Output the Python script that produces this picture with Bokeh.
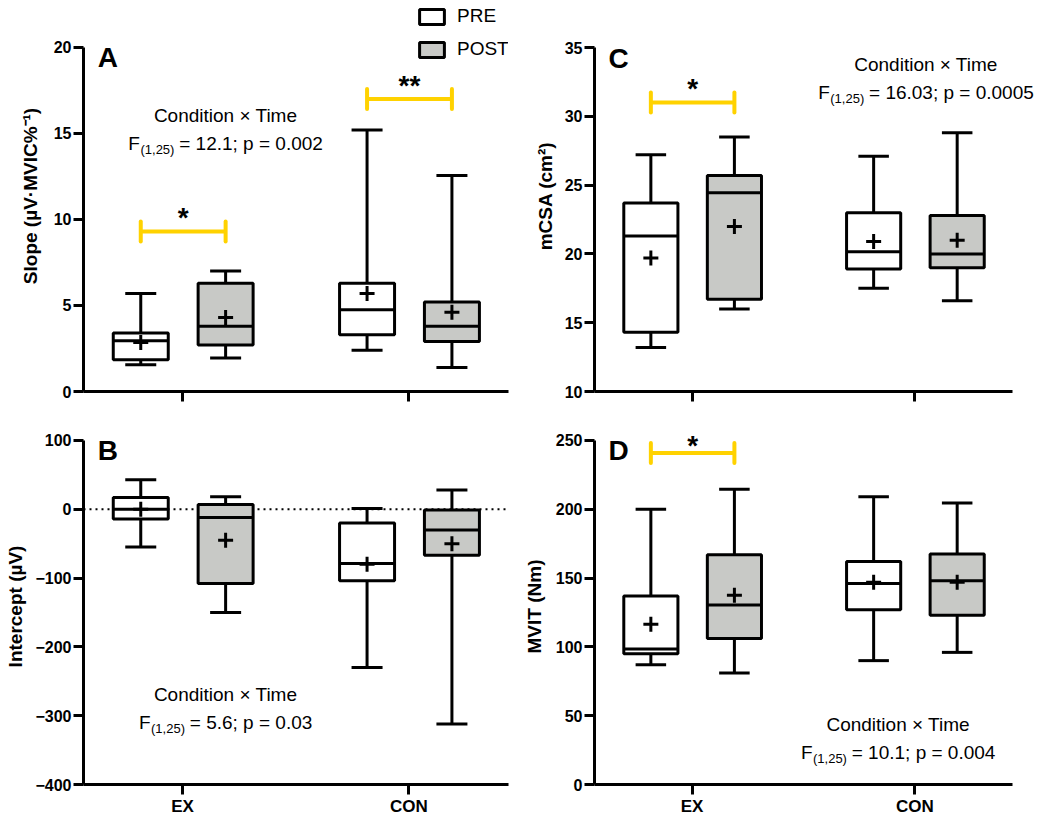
import math
from bokeh.plotting import figure
from bokeh.layouts import gridplot
from bokeh.models import Range1d, FixedTicker, Label, Span, ColumnDataSource
from bokeh.embed import file_html
from bokeh.resources import INLINE
from bokeh.core.properties import value

# ---------------- data ----------------
conditions = ["EX", "CON"]
cond_pos = [1, 2]
times = ["PRE", "POST"]
# order of groups: EX-PRE, EX-POST, CON-PRE, CON-POST

slope_min = [1.55, 1.95, 2.4, 1.4]
slope_q1 = [1.85, 2.7, 3.3, 2.9]
slope_med = [2.95, 3.8, 4.75, 3.8]
slope_q3 = [3.4, 6.3, 6.3, 5.2]
slope_max = [5.7, 7.0, 15.2, 12.55]
slope_mean = [2.85, 4.3, 5.7, 4.6]

icpt_min = [-55, -150, -230, -312]
icpt_q1 = [-14, -108, -104, -67]
icpt_med = [0, -12, -79, -30]
icpt_q3 = [17, 7, -20, -1]
icpt_max = [43, 18, 1, 28]
icpt_mean = [0, -45, -80, -50]

mcsa_min = [13.2, 16.0, 17.5, 16.6]
mcsa_q1 = [14.3, 16.7, 18.9, 19.0]
mcsa_med = [21.3, 24.45, 20.15, 20.0]
mcsa_q3 = [23.7, 25.7, 23.0, 22.8]
mcsa_max = [27.2, 28.5, 27.1, 28.8]
mcsa_mean = [19.7, 22.0, 20.9, 21.0]

mvit_min = [87, 81, 90, 96]
mvit_q1 = [95, 106, 127, 123]
mvit_med = [98.5, 130.5, 146, 148]
mvit_q3 = [137, 167, 162, 167.5]
mvit_max = [200, 214.5, 209, 204.5]
mvit_mean = [116.5, 137.5, 147, 147]

# significance brackets (condition index, y level, stars)
slope_sig_cond = [0, 1]
slope_sig_y = [9.3, 17.0]
slope_sig_txt = ["*", "**"]
mcsa_sig_cond = [0]
mcsa_sig_y = [31.0]
mcsa_sig_txt = ["*"]
mvit_sig_cond = [0]
mvit_sig_y = [240.8]
mvit_sig_txt = ["*"]

slope_ticks = [0, 5, 10, 15, 20]
icpt_ticks = [-400, -300, -200, -100, 0, 100]
mcsa_ticks = [10, 15, 20, 25, 30, 35]
mvit_ticks = [0, 50, 100, 150, 200, 250]

panel_letters = ["A", "B", "C", "D"]
y_labels = ["Slope (µV·MVIC%⁻¹)", "Intercept (µV)", "mCSA (cm²)", "MVIT (Nm)"]
stat_head = "Condition × Time"
stat_sub = "(1,25)"
stat_rest = ["= 12.1; p = 0.002", "= 5.6; p = 0.03", "= 16.03; p = 0.0005", "= 10.1; p = 0.004"]

# ---------------- style ----------------
FONT = "Liberation Sans"
GRAY = "#c8c9c6"
YELLOW = "#ffd200"
DODGE = {"PRE": -0.185, "POST": 0.19}
FILL = {"PRE": "white", "POST": GRAY}
BOX_W = 0.243
CAP_W = 0.137
X0 = 0.562
X_AXIS_END = 2.44

CW = {'F': .611, '(': .333, ')': .333, ',': .278, ' ': .278, '=': .584, '.': .278,
      ';': .278, 'p': .556}


def text_w(s, size):
    return sum(CW.get(ch, 0.556) for ch in s) * size


def make_fig(width, height, x_end, yr, yticks, mbl, mbr, mbt, mbb, show_x, ylabel, ylab_standoff):
    p = figure(width=width, height=height, x_range=Range1d(X0, x_end), y_range=Range1d(*yr),
               output_backend="svg", toolbar_location=None,
               min_border_left=mbl, min_border_right=mbr, min_border_top=mbt, min_border_bottom=mbb)
    p.outline_line_color = None
    p.xgrid.grid_line_color = None
    p.ygrid.grid_line_color = None
    p.background_fill_color = "white"
    p.xaxis.ticker = FixedTicker(ticks=cond_pos)
    p.xaxis.bounds = (X0, X_AXIS_END)
    if show_x:
        p.xaxis.major_label_overrides = {cond_pos[i]: conditions[i] for i in range(2)}
    else:
        p.xaxis.major_label_overrides = {cond_pos[i]: "" for i in range(2)}
    p.yaxis.ticker = FixedTicker(ticks=yticks)
    p.yaxis.bounds = (yticks[0], yticks[-1])
    for ax in p.axis:
        ax.axis_line_width = 3
        ax.axis_line_color = "black"
        ax.major_tick_line_width = 3
        ax.major_tick_line_color = "black"
        ax.major_tick_out = 10
        ax.major_tick_in = 0
        ax.minor_tick_line_color = None
        ax.major_label_text_font = FONT
        ax.major_label_text_font_style = "bold"
        ax.major_label_text_color = "black"
        ax.major_label_standoff = 2
    p.yaxis.major_label_text_font_size = "16px"
    p.xaxis.major_label_text_font_size = "17px"
    p.yaxis.axis_label = ylabel
    p.yaxis.axis_label_text_font = FONT
    p.yaxis.axis_label_text_font_style = "bold"
    p.yaxis.axis_label_text_font_size = "19px"
    p.yaxis.axis_label_text_color = "black"
    p.yaxis.axis_label_standoff = ylab_standoff
    return p


def draw_boxes(p, mins, q1, med, q3, maxs, means, legend=False):
    for t_i, t in enumerate(times):
        idx = [c_i * 2 + t_i for c_i in range(len(cond_pos))]
        xs = [cond_pos[c_i] + DODGE[t] for c_i in range(len(cond_pos))]
        src = ColumnDataSource(dict(
            x=xs,
            xcl=[x - CAP_W / 2 for x in xs], xcr=[x + CAP_W / 2 for x in xs],
            xbl=[x - BOX_W / 2 for x in xs], xbr=[x + BOX_W / 2 for x in xs],
            lo=[mins[i] for i in idx], q1=[q1[i] for i in idx], med=[med[i] for i in idx],
            q3=[q3[i] for i in idx], hi=[maxs[i] for i in idx], mean=[means[i] for i in idx]))
        lk = dict(line_color="black", line_width=3)
        p.segment(x0="x", y0="q3", x1="x", y1="hi", source=src, **lk)
        p.segment(x0="x", y0="lo", x1="x", y1="q1", source=src, **lk)
        p.segment(x0="xcl", y0="hi", x1="xcr", y1="hi", source=src, **lk)
        p.segment(x0="xcl", y0="lo", x1="xcr", y1="lo", source=src, **lk)
        kw = dict(legend_label=t) if legend else {}
        p.vbar(x="x", width=BOX_W, bottom="q1", top="q3", source=src,
               fill_color=FILL[t], line_color="black", line_width=3, **kw)
        p.segment(x0="xbl", y0="med", x1="xbr", y1="med", source=src, **lk)
        p.scatter(x="x", y="mean", source=src, marker="cross", size=15,
                  line_color="black", line_width=3)


def draw_sig(p, conds, ys, stars, star_offset=-14):
    x0 = [cond_pos[c] + DODGE["PRE"] for c in conds]
    x1 = [cond_pos[c] + DODGE["POST"] for c in conds]
    xm = [(a + b) / 2 for a, b in zip(x0, x1)]
    p.segment(x0=x0, y0=ys, x1=x1, y1=ys, line_color=YELLOW, line_width=4)
    p.scatter(x=x0 + x1, y=ys + ys, marker="dash", angle=math.pi / 2, size=20,
              line_color=YELLOW, line_width=4, line_cap="round")
    p.text(x=xm, y=ys, text=stars, text_align="center", text_baseline="middle",
           y_offset=star_offset, text_font=value(FONT), text_font_style="bold",
           text_font_size="28px", text_color="black")


def add_letter(p, letter, ytop):
    p.add_layout(Label(x=0.625, y=ytop, text=letter, text_baseline="top", text_align="left",
                       y_offset=5, text_font=FONT, text_font_style="bold",
                       text_font_size="28px", text_color="black"))


def add_stat(p, x, y, rest, size=19, sub_size=13, gap=28):
    p.add_layout(Label(x=x, y=y, text=stat_head, text_align="center", text_baseline="middle",
                       text_font=FONT, text_font_size=f"{size}px", text_color="black"))
    wF = text_w("F", size)
    wS = text_w(stat_sub, sub_size)
    wSp = text_w(" ", size)
    wR = text_w(rest, size)
    start = -(wF + wS + wSp + wR) / 2
    common = dict(x=x, y=y, text_align="left", text_baseline="middle", text_font=FONT,
                  text_color="black")
    p.add_layout(Label(x_offset=start, y_offset=-gap, text="F",
                       text_font_size=f"{size}px", **common))
    p.add_layout(Label(x_offset=start + wF + 0.5, y_offset=-gap - 6, text=stat_sub,
                       text_font_size=f"{sub_size}px", **common))
    p.add_layout(Label(x_offset=start + wF + wS + wSp, y_offset=-gap, text=rest,
                       text_font_size=f"{size}px", **common))


# ---------------- panels ----------------
# left column: frames 83..508 ; right column: frames 588..1042 (axis line ends at X_AXIS_END)
X_END_RIGHT = 2.573

pA = make_fig(520, 428, X_AXIS_END, (0, 22.73), slope_ticks, 83, 12, 0, 37, False, y_labels[0], 10)
draw_boxes(pA, slope_min, slope_q1, slope_med, slope_q3, slope_max, slope_mean, legend=True)
draw_sig(pA, slope_sig_cond, slope_sig_y, slope_sig_txt)
add_letter(pA, panel_letters[0], slope_ticks[-1])
add_stat(pA, 1.19, 16.05, stat_rest[0])
lg = pA.legend[0]
lg.location = (333, 331)
lg.orientation = "vertical"
lg.background_fill_alpha = 0
lg.border_line_alpha = 0
lg.padding = 0
lg.margin = 0
lg.spacing = 11
lg.glyph_width = 31
lg.glyph_height = 19
lg.label_height = 22
lg.label_standoff = 10
lg.label_text_font = FONT
lg.label_text_font_size = "19px"
lg.label_text_color = "black"

pC = make_fig(522, 428, X_END_RIGHT, (10, 38.42), mcsa_ticks, 68, 0, 0, 37, False, y_labels[2], 6)
draw_boxes(pC, mcsa_min, mcsa_q1, mcsa_med, mcsa_q3, mcsa_max, mcsa_mean)
draw_sig(pC, mcsa_sig_cond, mcsa_sig_y, mcsa_sig_txt)
add_letter(pC, panel_letters[2], mcsa_ticks[-1])
add_stat(pC, 2.05, 33.76, stat_rest[2])

pB = make_fig(520, 390, X_AXIS_END, (-400, 117.34), icpt_ticks, 83, 12, 0, 32, True, y_labels[1], 6)
pB.add_layout(Span(location=0, dimension="width", line_color="black", line_width=2,
                   line_dash="2 4", level="underlay"))
draw_boxes(pB, icpt_min, icpt_q1, icpt_med, icpt_q3, icpt_max, icpt_mean)
add_letter(pB, panel_letters[1], icpt_ticks[-1])
add_stat(pB, 1.19, -269, stat_rest[1])

pD = make_fig(522, 390, X_END_RIGHT, (0, 258.67), mvit_ticks, 68, 0, 0, 32, True, y_labels[3], 8)
draw_boxes(pD, mvit_min, mvit_q1, mvit_med, mvit_q3, mvit_max, mvit_mean)
draw_sig(pD, mvit_sig_cond, mvit_sig_y, mvit_sig_txt, star_offset=-8)
add_letter(pD, panel_letters[3], mvit_ticks[-1])
add_stat(pD, 1.925, 43.5, stat_rest[3])

grid = gridplot([[pA, pC], [pB, pD]], toolbar_location=None)

open("out.html", "w").write(file_html(grid, INLINE))
